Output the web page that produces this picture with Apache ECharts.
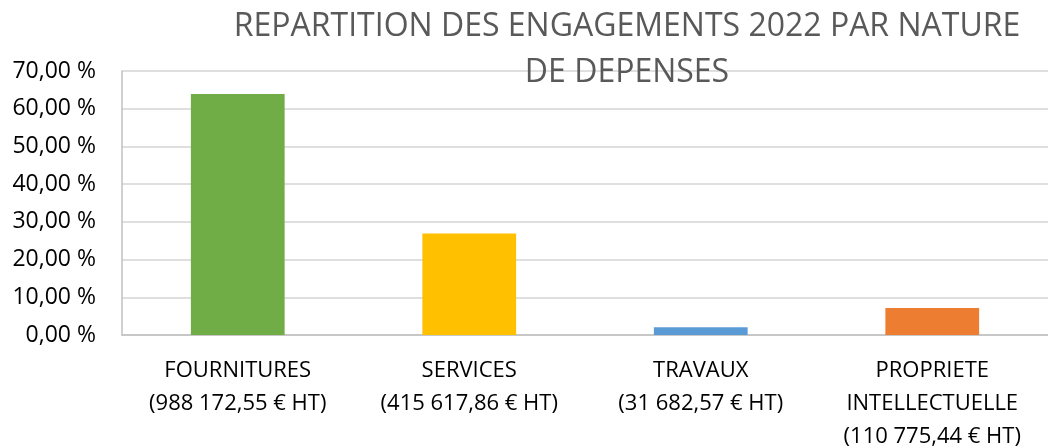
<!DOCTYPE html>
<html>
<head>
<meta charset="utf-8">
<script src="https://cdn.jsdelivr.net/npm/echarts@6/dist/echarts.min.js"></script>
<style>
  html, body { margin: 0; padding: 0; background: #fff; }
  #main { width: 1048px; height: 446px; }
</style>
</head>
<body>
<div id="main"></div>
<script>
// natures de dépenses
const natures = ['FOURNITURES', 'SERVICES', 'TRAVAUX', 'PROPRIETE\nINTELLECTUELLE']
const montants = ['988 172,55', '415 617,86', '31 682,57', '110 775,44']
// part en %
const parts = [63.91, 26.88, 2.05, 7.16]
const couleurs = ['#70AD47', '#FFC000', '#5B9BD5', '#ED7D31']

const categories = natures.map((n, i) => n + '\n(' + montants[i] + ' € HT)')

const chart = echarts.init(document.getElementById('main'))

const option = {
  animation: false,
  title: {
    text: 'REPARTITION DES ENGAGEMENTS 2022 PAR NATURE\nDE DEPENSES',
    left: 627,
    top: 4,
    textAlign: 'center',
    padding: 0,
    textStyle: {
      fontFamily: 'Open Sans',
      fontSize: 32,
      fontWeight: 'normal',
      color: '#595959',
      lineHeight: 46,
    },
  },
  grid: {
    left: 122,
    right: 0,
    top: 71,
    bottom: 111,
    containLabel: false,
    outerBoundsMode: 'none',
  },
  xAxis: {
    type: 'category',
    data: categories,
    axisTick: { show: false },
    axisLine: { lineStyle: { color: '#c0c0c0', width: 1.5 } },
    axisLabel: {
      margin: 19,
      interval: 0,
      fontFamily: 'Open Sans',
      fontSize: 22,
      lineHeight: 33,
      color: '#000',
    },
  },
  yAxis: {
    type: 'value',
    min: 0,
    max: 70,
    interval: 10,
    axisLine: { show: true, lineStyle: { color: '#c0c0c0', width: 1.5 } },
    axisTick: { show: false },
    splitLine: { lineStyle: { color: '#d4d4d4', width: 1.5 } },
    axisLabel: {
      margin: 26,
      fontFamily: 'Open Sans',
      fontSize: 23,
      color: '#000',
      formatter: (v) => v.toFixed(2).replace('.', ',') + ' %',
    },
  },
  series: [
    {
      type: 'bar',
      barWidth: '40.5%',
      data: parts.map((v, i) => ({ value: v, itemStyle: { color: couleurs[i] } })),
    },
  ],
}

chart.setOption(option)
</script>
</body>
</html>
